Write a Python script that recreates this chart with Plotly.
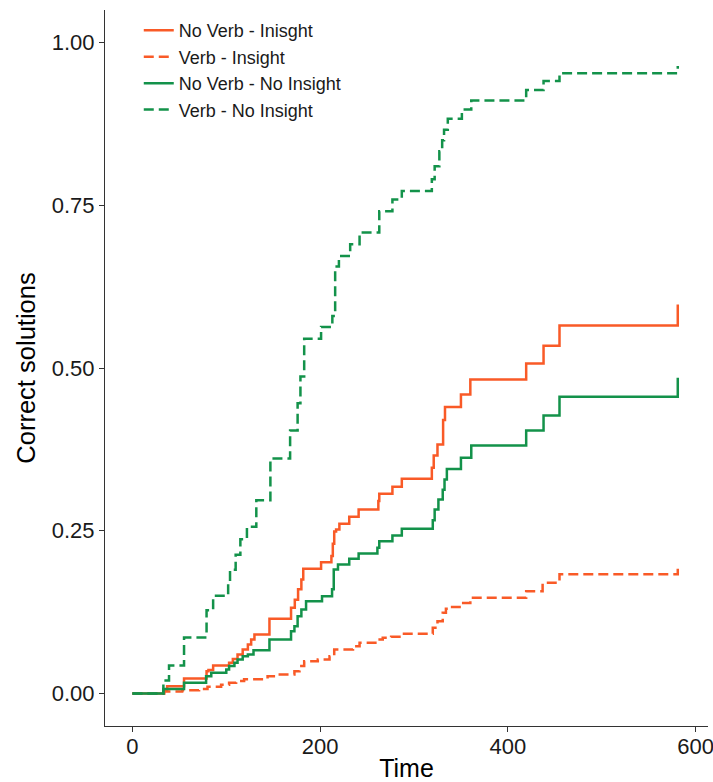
import plotly.graph_objects as go

# ---- data ----
t_nv_ins = [0, 33, 37, 55, 79, 81, 86, 103, 107, 112, 117.5, 123, 126.5, 130, 146, 169, 173, 176.5, 180, 182,
            201, 212, 213.5, 215, 217, 220.5, 231, 241, 262, 263, 277, 287, 319, 321, 325, 331, 333, 350, 360,
            419.5, 438, 455, 581]
y_nv_ins = [0, 0.004, 0.011, 0.023, 0.034, 0.036, 0.043, 0.047, 0.053, 0.060, 0.0676, 0.0753, 0.083, 0.0906, 0.1147,
            0.1316, 0.144, 0.160, 0.175, 0.1915, 0.2017, 0.211, 0.23, 0.249, 0.252, 0.2607, 0.2714, 0.2826, 0.2955,
            0.3068, 0.3175, 0.330, 0.3467, 0.3656, 0.3825, 0.42, 0.44, 0.4593, 0.4823, 0.507, 0.534, 0.5653, 0.5975]

t_v_ins = [0, 34, 53, 71, 80, 94.5, 103, 110.5, 119, 144, 153, 172.6, 178, 183, 197.5, 210, 215, 235, 242, 261,
           266.7, 275.6, 284.5, 320, 325, 330.6, 334, 338, 350, 360, 419.5, 437, 455, 581]
y_v_ins = [0, 0.003, 0.005, 0.007, 0.0103, 0.0134, 0.0164, 0.019, 0.022, 0.0266, 0.029, 0.034, 0.042, 0.0496,
           0.052, 0.057, 0.0676, 0.0727, 0.078, 0.083, 0.0855, 0.087, 0.0917, 0.101, 0.111, 0.124, 0.130, 0.133,
           0.139, 0.147, 0.157, 0.170, 0.183, 0.198]

t_nv_noins = [0, 33, 55, 78.5, 84, 100, 103, 108.7, 112, 117.5, 123, 129, 146, 169, 172.6, 176, 180, 185, 202,
              212.7, 214.5, 219, 231, 241, 261, 263, 277, 287, 320, 322, 326, 330.6, 332.5, 335, 350, 361,
              419.5, 438, 455, 581]
y_nv_noins = [0, 0.007, 0.0164, 0.0266, 0.0317, 0.0369, 0.042, 0.047, 0.052, 0.057, 0.060, 0.0665, 0.083, 0.0957,
              0.1034, 0.1187, 0.129, 0.1418, 0.1495, 0.160, 0.1905, 0.198, 0.207, 0.215, 0.2238, 0.234, 0.2427,
              0.253, 0.266, 0.2826, 0.298, 0.313, 0.3287, 0.345, 0.362, 0.381, 0.404, 0.427, 0.4557, 0.485]

t_v_noins = [0, 33, 39, 55, 79, 86, 102, 104, 110, 115, 122, 132, 147, 168, 176, 179, 183, 201, 213, 216, 220,
             232, 242, 263, 277, 287, 319, 322, 327, 330, 332, 336, 351, 361, 419.5, 438, 455, 581]
y_v_noins = [0, 0.02, 0.043, 0.086, 0.128, 0.150, 0.172, 0.190, 0.213, 0.237, 0.256, 0.297, 0.361, 0.404, 0.446,
             0.487, 0.545, 0.563, 0.58, 0.656, 0.672, 0.690, 0.708, 0.741, 0.759, 0.772, 0.79, 0.81, 0.833, 0.85,
             0.866, 0.883, 0.897, 0.911, 0.927, 0.941, 0.953, 0.964]

names = ["No Verb - Inisght", "Verb - Insight", "No Verb - No Insight", "Verb - No Insight"]
x_ticks = [0, 200, 400, 600]
y_ticks = [0, 0.25, 0.5, 0.75, 1.0]
y_ticktext = ["0.00", "0.25", "0.50", "0.75", "1.00"]

ORANGE = "#F95A27"
GREEN = "#13924A"
DASH = "10px,5px"

series = [
    (t_nv_ins, y_nv_ins, names[0], ORANGE, "solid"),
    (t_v_ins, y_v_ins, names[1], ORANGE, DASH),
    (t_nv_noins, y_nv_noins, names[2], GREEN, "solid"),
    (t_v_noins, y_v_noins, names[3], GREEN, DASH),
]

fig = go.Figure()
for t, y, name, color, dash in series:
    fig.add_trace(go.Scatter(
        x=t, y=y, name=name, mode="lines",
        line=dict(color=color, width=2.5, dash=dash, shape="hv"),
    ))

FONT = "Liberation Sans, Arial, sans-serif"
fig.update_layout(
    width=713, height=782,
    margin=dict(l=105, r=5, t=10, b=56),
    paper_bgcolor="white", plot_bgcolor="white",
    font=dict(family=FONT, color="black"),
    legend=dict(
        x=0.056, y=0.997, xanchor="left", yanchor="top",
        bgcolor="rgba(0,0,0,0)", font=dict(size=18, color="#1a1a1a"),
        tracegroupgap=0,
    ),
    showlegend=True,
)
fig.update_xaxes(
    range=[-29.2, 613.2], tickvals=x_ticks, ticks="outside", ticklen=5, tickwidth=1.2,
    tickcolor="#333", showline=True, linecolor="#333", linewidth=1.2, showgrid=False,
    zeroline=False, tickfont=dict(size=22, color="#1a1a1a"), automargin=False,
    ticklabelstandoff=-5, ticklabeloverflow="allow",
    title=dict(text="Time", font=dict(size=25, color="black"), standoff=2),
)
fig.update_yaxes(
    range=[-0.05, 1.05], tickvals=y_ticks, ticktext=y_ticktext, ticks="outside", ticklen=5,
    tickwidth=1.2, tickcolor="#333", showline=True, linecolor="#333", linewidth=1.2,
    showgrid=False, zeroline=False, tickfont=dict(size=22, color="#1a1a1a"), automargin=False,
    title=dict(text="Correct solutions", font=dict(size=25.5, color="black"), standoff=8),
)

# remove the page's default 8px body margin so the figure fills the window exactly
fig.write_html(
    "out.html",
    config={"displayModeBar": False},
    post_script="document.body.style.margin='0';document.body.style.overflow='hidden';",
)
